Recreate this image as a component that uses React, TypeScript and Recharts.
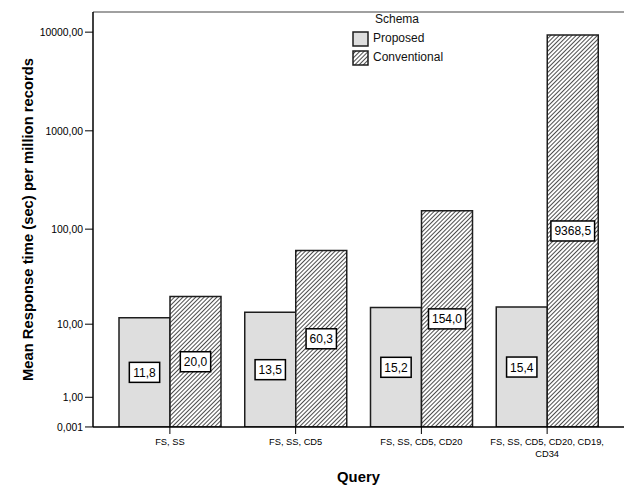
import React from "react";
import { BarChart, Bar, XAxis, YAxis, Legend, LabelList, ReferenceLine } from "recharts";

// Query groups and the mean response time per schema (sec per million records)
const queries = ["FS, SS", "FS, SS, CD5", "FS, SS, CD5, CD20", "FS, SS, CD5, CD20, CD19, CD34"];
const proposed = [11.8, 13.5, 15.2, 15.4];
const conventional = [20.0, 60.3, 154.0, 9368.5];
const yTicks = [0.001, 1, 10, 100, 1000, 10000];
const yMax = 16000;

const series = [
  { key: "proposed", name: "Proposed" },
  { key: "conventional", name: "Conventional" },
];

const data = queries.map((q, i) => ({
  query: q,
  proposed: proposed[i],
  conventional: conventional[i],
}));

const FONT = '"Liberation Sans", Arial, sans-serif';
const GREY = "#dedede";
const EDGE = "#1e1e1e";

const fmtTick = (v: number) => (v < 1 ? "0,001" : v.toFixed(2).replace(".", ","));
const fmtVal = (v: number) => v.toFixed(1).replace(".", ",");

// white box with a black border, centred on the bar (SPSS style)
function BoxLabel(props: any) {
  const { x, y, width, height, value } = props;
  const txt = fmtVal(Number(value));
  let tw = 0;
  for (const ch of txt) tw += ch === "," ? 3.34 : 6.67;
  const w = tw + 7;
  const h = 20;
  const cx = x + width / 2;
  const cy = y + height / 2;
  return (
    <g>
      <rect x={cx - w / 2} y={cy - h / 2} width={w} height={h} fill="#fff" stroke="#000" strokeWidth={1.5} />
      <text x={cx} y={cy + 4.5} textAnchor="middle" fontSize={12} fontFamily={FONT} fill="#000">
        {txt}
      </text>
    </g>
  );
}

// rough Arial widths (em) for the characters used in the query names
const charW = (ch: string) => {
  if (ch === "," || ch === " ") return 0.278;
  if (ch === "C" || ch === "D") return 0.722;
  if (ch === "S") return 0.667;
  if (ch === "F") return 0.611;
  return 0.556;
};

function wrap(s: string, maxPx: number, size: number) {
  const words = s.split(" ");
  const lines: string[] = [];
  let cur = "";
  for (const w of words) {
    const next = cur ? cur + " " + w : w;
    let px = 0;
    for (const ch of next) px += charW(ch) * size;
    if (px > maxPx && cur) {
      lines.push(cur);
      cur = w;
    } else cur = next;
  }
  if (cur) lines.push(cur);
  return lines;
}

function QueryTick({ x, y, payload }: any) {
  const size = 9.3;
  const lines = wrap(String(payload.value), 120, size);
  return (
    <text x={x} y={y + 9} textAnchor="middle" fontSize={size} fontFamily={FONT} fill="#000">
      {lines.map((l, i) => (
        <tspan key={i} x={x} dy={i === 0 ? 0 : 12}>
          {l}
        </tspan>
      ))}
    </text>
  );
}

function Swatch({ hatch }: { hatch: boolean }) {
  return (
    <svg width={17} height={16} style={{ display: "block", marginRight: 4 }}>
      <defs>
        <pattern id="hatchLegend" width={3} height={3} patternUnits="userSpaceOnUse" patternTransform="rotate(45)">
          <rect width={3} height={3} fill="#fff" />
          <line x1={0} y1={0} x2={0} y2={3} stroke="#000" strokeWidth={1.4} />
        </pattern>
      </defs>
      <rect x={1} y={1} width={15} height={14} fill={hatch ? "url(#hatchLegend)" : GREY} stroke={EDGE} strokeWidth={1.5} />
    </svg>
  );
}

function SchemaLegend() {
  return (
    <div style={{ fontFamily: FONT, fontSize: 12, color: "#111", lineHeight: "19px" }}>
      <div style={{ paddingLeft: 23 }}>Schema</div>
      {series.map((s) => (
        <div key={s.key} style={{ display: "flex", alignItems: "center", height: 19 }}>
          <Swatch hatch={s.key === "conventional"} />
          <span>{s.name}</span>
        </div>
      ))}
    </div>
  );
}

export default function App() {
  return (
    <div style={{ position: "absolute", left: 0, top: 0, background: "#fff" }}>
      <BarChart
        width={624}
        height={500}
        data={data}
        margin={{ top: 12, right: 0, left: 0, bottom: 0 }}
        barCategoryGap={12}
        barGap={0}
      >
        <defs>
          <pattern id="hatch" width={3} height={3} patternUnits="userSpaceOnUse" patternTransform="rotate(45)">
            <rect width={3} height={3} fill="#fff" />
            <line x1={0} y1={0} x2={0} y2={3} stroke="#000" strokeWidth={1.4} />
          </pattern>
        </defs>
        <XAxis
          dataKey="query"
          height={73}
          padding={{ left: 14, right: 14 }}
          axisLine={{ stroke: "#000", strokeWidth: 1.5 }}
          tickLine={{ stroke: "#000" }}
          tickSize={7}
          tickMargin={2}
          interval={0}
          tick={<QueryTick />}
          label={{
            content: ({ viewBox }: any) => (
              <text
                x={viewBox.x + viewBox.width / 2}
                y={viewBox.y + 55}
                textAnchor="middle"
                fontSize={14.8}
                fontWeight="bold"
                fontFamily={FONT}
                fill="#000"
              >
                Query
              </text>
            ),
          }}
        />
        <YAxis
          width={93}
          scale="symlog"
          type="number"
          domain={[0, yMax]}
          allowDataOverflow
          ticks={yTicks}
          interval={0}
          tickFormatter={fmtTick}
          axisLine={{ stroke: "#000", strokeWidth: 1.5 }}
          tickLine={{ stroke: "#000" }}
          tickSize={8}
          tickMargin={2}
          tick={{ fontSize: 10.4, fontFamily: FONT, fill: "#000" }}
          label={{
            content: ({ viewBox }: any) => {
              const cx = 33;
              const cy = viewBox.y + viewBox.height / 2;
              return (
                <text
                  x={cx}
                  y={cy}
                  transform={`rotate(-90 ${cx} ${cy})`}
                  textAnchor="middle"
                  fontSize={14.8}
                  fontWeight="bold"
                  fontFamily={FONT}
                  fill="#000"
                >
                  Mean Response time (sec) per million records
                </text>
              );
            },
          }}
        />
        <ReferenceLine y={yMax} stroke="#a0a0a0" strokeWidth={2} />
        <Legend
          layout="horizontal"
          verticalAlign="middle"
          align="center"
          content={<SchemaLegend />}
          wrapperStyle={{ position: "absolute", left: 352, top: 10, width: 140 }}
        />
        <Bar dataKey="proposed" name="Proposed" fill={GREY} stroke={EDGE} strokeWidth={1.5} isAnimationActive={false}>
          <LabelList dataKey="proposed" content={<BoxLabel />} />
        </Bar>
        <Bar dataKey="conventional" name="Conventional" fill="url(#hatch)" stroke={EDGE} strokeWidth={1.5} isAnimationActive={false}>
          <LabelList dataKey="conventional" content={<BoxLabel />} />
        </Bar>
      </BarChart>
    </div>
  );
}
